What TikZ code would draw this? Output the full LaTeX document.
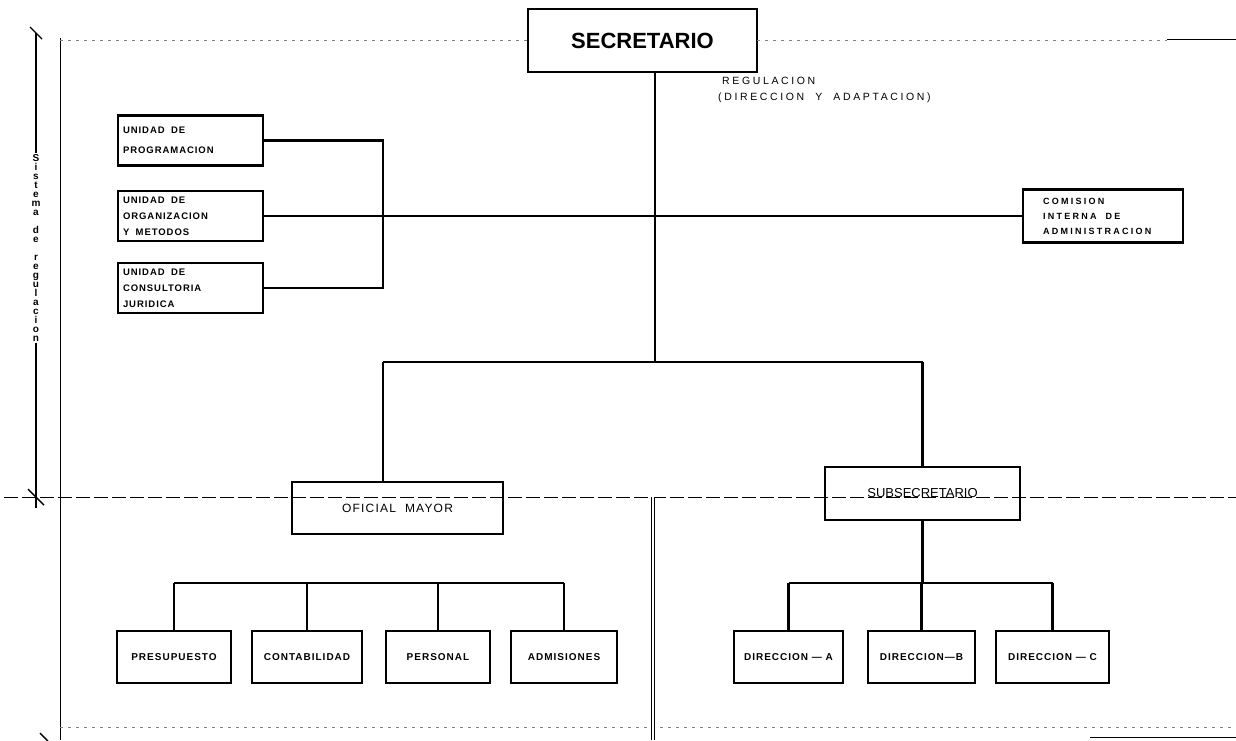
\documentclass[tikz,border=0pt]{standalone}
\usepackage{fontspec}
\setmainfont{Liberation Sans}
\newfontfamily\orgfont[LetterSpace=10]{Liberation Sans}
\newfontfamily\widefont[LetterSpace=25]{Liberation Sans}
\tikzset
    { orgbox/.style =
        { draw
        , line width = 2.2pt
        , minimum height = 52pt
        , inner sep = 0pt
        , font = \orgfont\bfseries\fontsize{10}{11}\selectfont
        }
    , leftbox/.style =
        { orgbox
        , minimum height = 50pt
        , text width = 135pt
        , inner xsep = 5pt
        , align = left
        , font = \orgfont\bfseries\fontsize{9.5}{16}\selectfont
        }
    , link/.style = {line width = 2.2pt}
    , guideline/.style = {line width = 0.9pt, dash pattern = on 14pt off 4pt}
    , faintline/.style = {gray, line width = 0.6pt, dash pattern = on 3pt off 5pt}
    }

\begin{document}
\begin{tikzpicture}[x=1pt, y=-1pt]
\useasboundingbox (0,0) rectangle (1236,740);

\node[orgbox, minimum width=229pt, minimum height=63pt, font=\bfseries\fontsize{22}{22}\selectfont] (secretario) at (642.5,40.5) {SECRETARIO};
\node[leftbox] (programacion) at (190.5,140.5) {UNIDAD\ \ DE\\[4pt]PROGRAMACION};
\node[leftbox] (organizacion) at (190.5,216) {UNIDAD\ \ DE\\ORGANIZACION\\Y\ \ METODOS};
\node[leftbox] (juridica) at (190.5,288) {UNIDAD\ \ DE\\CONSULTORIA\\JURIDICA};
\node[leftbox, text width=120pt, inner xsep=20pt, minimum height=53pt, font=\widefont\bfseries\fontsize{9}{15}\selectfont] (comision) at (1103,216) {COMISION\\INTERNA\ \ \ DE\\ADMINISTRACION};
\node[anchor=west, align=left, inner sep=0pt, font=\widefont\fontsize{10.5}{16}\selectfont] (regulacion) at (718,90) {\hspace*{4pt}REGULACION\\(DIRECCION\ \ Y\ \ ADAPTACION)};

\node[orgbox, minimum width=211pt, font=\orgfont\fontsize{12}{12}\selectfont] (oficial) at (397.5,508) {OFICIAL\ \ MAYOR};
\node[orgbox, minimum width=195pt, minimum height=53pt, font=\fontsize{13}{13}\selectfont] (subsecretario) at (922.5,493.5) {SUBSECRETARIO};

\foreach \name/\x/\w/\label in
    {presupuesto/174/114/PRESUPUESTO, contabilidad/307/110/CONTABILIDAD,
     personal/438/104/PERSONAL, admisiones/564/106/ADMISIONES,
     direccionA/788.5/109/DIRECCION — A, direccionB/921.5/107/DIRECCION—B,
     direccionC/1052.5/113/DIRECCION — C}
    \node[orgbox, minimum width=\w pt] (\name) at (\x,657) {\label};

\coordinate (trunk) at (655,362);
\coordinate (bracket) at (383,216);
\coordinate (lowleft) at (383,362);
\coordinate (lowright) at (922.5,362);
\coordinate (offbar) at (0,583);
\coordinate (dirbar) at (922.5,583);

\draw[link] (secretario.south -| trunk) -- (trunk);
\draw[link] (organizacion.east) -- (comision.west);
\draw[link] (programacion.east) -| (bracket) |- (juridica.east);
\draw[link] (lowleft) -- (lowright) (lowleft) -- (lowleft |- oficial.north) (lowright) -- (subsecretario.north);
\draw[link] (subsecretario.south) -- (dirbar);
\draw[link] (direccionA.north |- dirbar) -- (direccionC.north |- dirbar);
\foreach \n in {direccionA, direccionB, direccionC}
    \draw[link] (\n.north |- dirbar) -- (\n.north);
\draw[link] (presupuesto.north |- offbar) -- (admisiones.north |- offbar);
\foreach \n in {presupuesto, contabilidad, personal, admisiones}
    \draw[link] (\n.north |- offbar) -- (\n.north);

\node[align=center, inner sep=1pt, font=\bfseries\fontsize{10}{9}\selectfont] (sistema) at (36,248)
    {S\\i\\s\\t\\e\\m\\a\\[9pt]d\\e\\[9pt]r\\e\\g\\u\\l\\a\\c\\i\\o\\n};
\draw[line width=1.4pt] (36,33) -- (sistema.north) (sistema.south) -- (36,508);
\draw[line width=1.4pt] (30,27) -- (42,39) (28,489) -- (44,505) (40,733) -- (48,741);
\draw[line width=1pt] (60,38) -- (60,740);
\draw[guideline] (4,497) -- (1236,497);
\draw[faintline] (60,40) -- (528,40) (757,40) -- (1167,40);
\draw[line width=0.8pt] (1167,39) -- (1236,39);
\draw[faintline] (60,727) -- (1236,727);
\draw[line width=0.8pt] (1090,737) -- (1236,737);
\draw[double, double distance=2.5pt, line width=0.8pt] (653,497) -- (653,740);
\end{tikzpicture}
\end{document}
